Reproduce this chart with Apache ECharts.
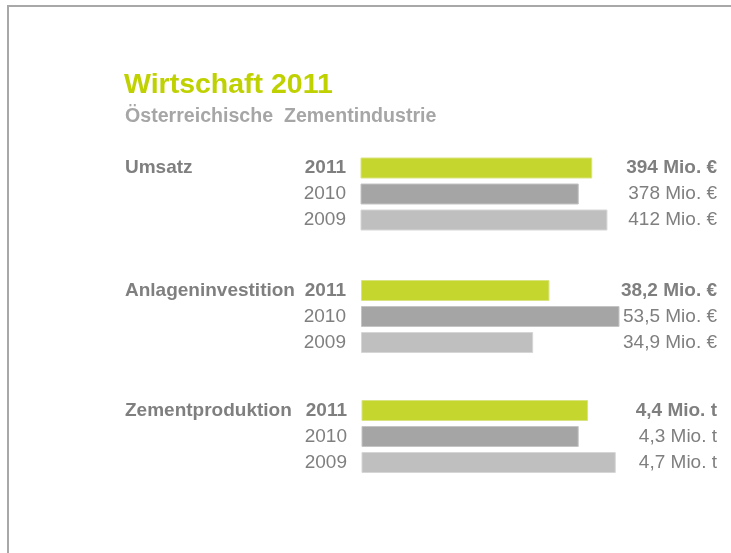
<!DOCTYPE html>
<html>
<head>
<meta charset="utf-8">
<script src="https://cdn.jsdelivr.net/npm/echarts@6/dist/echarts.min.js"></script>
<style>
  html, body { margin: 0; padding: 0; background: #fff; }
  #main { width: 731px; height: 553px; }
</style>
</head>
<body>
<div id="main"></div>
<script>
// Jahre (oben -> unten) und Kennzahlen
var years = ['2011', '2010', '2009'];
var groups = ['Umsatz', 'Anlageninvestition', 'Zementproduktion'];
var umsatz = [394, 378, 412];
var anlagen = [38.2, 53.5, 34.9];
var zement = [4.4, 4.3, 4.7];
var units = ['Mio. €', 'Mio. €', 'Mio. t'];

var FONT = "'Liberation Sans', Arial, sans-serif";
var GRAY = '#7f7f7f';
var barColors = ['#c5d62f', '#a5a5a5', '#bfbfbf'];
var barBorders = ['#d9e37f', '#c4c4c4', '#d6d6d6'];

var series = [umsatz, anlagen, zement];
// sichtbarer Bereich je Gruppe (Achsen sind ausgeblendet)
var ranges = [[120, 425.7], [0, 52.3], [1.96, 4.735]];
var gridTops = [155, 277.5, 397.5];
var rowCenters = [168, 290.5, 410.5];

function fmt(v) {
  return String(v).replace('.', ',');
}

var chart = echarts.init(document.getElementById('main'));

var grids = [], xAxes = [], yAxes = [], bars = [], titles = [];

titles.push({
  text: 'Wirtschaft 2011',
  left: 124, top: 71, padding: 0,
  textStyle: { color: '#bfd100', fontSize: 28.5, fontWeight: 'bold', fontFamily: FONT }
});
titles.push({
  text: 'Österreichische  Zementindustrie',
  left: 125, top: 107, padding: 0,
  textStyle: { color: '#a6a6a6', fontSize: 19.6, fontWeight: 'bold', fontFamily: FONT }
});

series.forEach(function (vals, g) {
  grids.push({ left: g === 2 ? 362 : 361, top: gridTops[g], width: g === 2 ? 257 : 258, height: 78 });
  xAxes.push({
    type: 'value', gridIndex: g, show: false,
    min: ranges[g][0], max: ranges[g][1]
  });
  yAxes.push({
    type: 'category', gridIndex: g, data: years, inverse: true,
    axisLine: { show: false }, axisTick: { show: false },
    axisLabel: {
      margin: 15, fontSize: 19, color: GRAY, fontFamily: FONT,
      formatter: function (v, i) { return i === 0 ? '{b|' + v + '}' : v; },
      rich: { b: { fontWeight: 'bold', fontSize: 19, color: GRAY, fontFamily: FONT } }
    }
  });
  yAxes.push({
    type: 'category', gridIndex: g, data: years, inverse: true, position: 'right',
    axisLine: { show: false }, axisTick: { show: false },
    axisLabel: {
      margin: 98, align: 'right', fontSize: 19, color: GRAY, fontFamily: FONT,
      formatter: function (v, i) {
        var s = fmt(vals[i]) + ' ' + units[g];
        return i === 0 ? '{b|' + s + '}' : s;
      },
      rich: { b: { fontWeight: 'bold', fontSize: 19, color: GRAY, fontFamily: FONT } }
    }
  });
  bars.push({
    type: 'bar', xAxisIndex: g, yAxisIndex: g * 2,
    barWidth: 21, animation: false,
    data: vals.map(function (v, i) {
      return { value: v, itemStyle: { color: barColors[i], borderColor: barBorders[i], borderWidth: 1 } };
    })
  });
  titles.push({
    text: groups[g],
    left: 125, top: rowCenters[g] - 9.5, padding: 0,
    textStyle: { color: GRAY, fontSize: 19, fontWeight: 'bold', fontFamily: FONT }
  });
});

var option = {
  backgroundColor: '#fff',
  animation: false,
  title: titles,
  grid: grids,
  xAxis: xAxes,
  yAxis: yAxes,
  series: bars,
  graphic: [
    { type: 'line', shape: { x1: 7, y1: 6, x2: 731, y2: 6 }, style: { stroke: '#a8a8a8', lineWidth: 2 } },
    { type: 'line', shape: { x1: 8, y1: 5, x2: 8, y2: 553 }, style: { stroke: '#a8a8a8', lineWidth: 2 } }
  ]
};

chart.setOption(option);
</script>
</body>
</html>
